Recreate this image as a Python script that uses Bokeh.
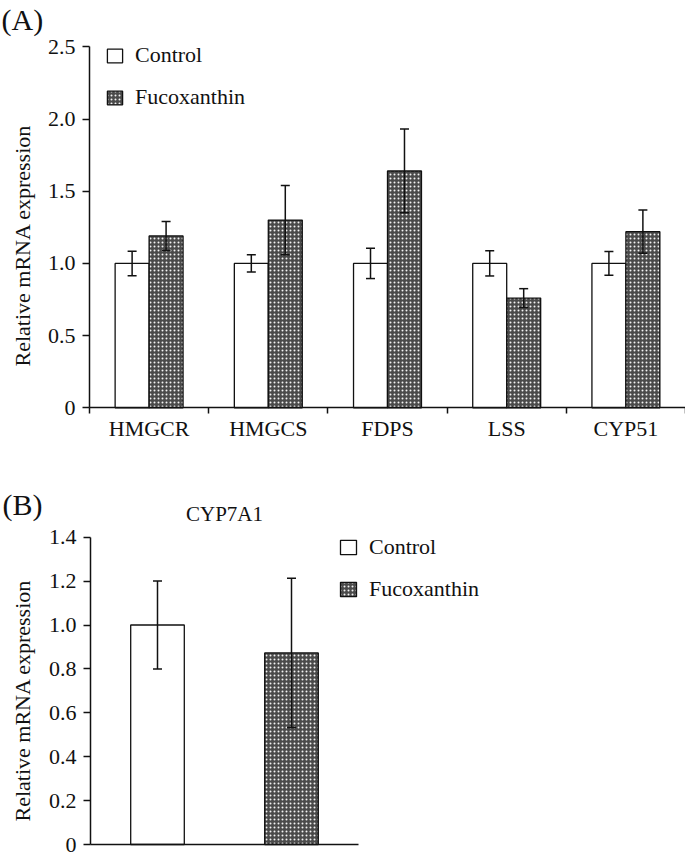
import numpy as np
from bokeh.plotting import figure
from bokeh.layouts import column
from bokeh.models import (Range1d, FixedTicker, Whisker, TeeHead, ColumnDataSource,
                          Legend, LegendItem, Label)
from bokeh.transform import dodge
from bokeh.embed import file_html
from bokeh.resources import INLINE

# ---------------- data ----------------
genes = ["HMGCR", "HMGCS", "FDPS", "LSS", "CYP51"]
control_a = [1.00, 1.00, 1.00, 1.00, 1.00]
control_a_err = [0.085, 0.060, 0.105, 0.087, 0.082]
fuco_a = [1.19, 1.30, 1.64, 0.76, 1.22]
fuco_a_err = [0.100, 0.240, 0.290, 0.065, 0.150]
y_ticks_a = [0, 0.5, 1.0, 1.5, 2.0, 2.5]
y_labels_a = ["0", "0.5", "1.0", "1.5", "2.0", "2.5"]

gene_b = "CYP7A1"
groups_b = ["Control", "Fucoxanthin"]
values_b = [1.00, 0.873]
errors_b = [0.20, 0.34]
y_ticks_b = [0, 0.2, 0.4, 0.6, 0.8, 1.0, 1.2, 1.4]
y_labels_b = ["0", "0.2", "0.4", "0.6", "0.8", "1.0", "1.2", "1.4"]

y_title = "Relative mRNA expression"

# ---------------- style ----------------
FONT = "Liberation Serif"
INK = "#111111"
FS = "22px"
CTRL_STYLE = dict(fill_color="white", line_color=INK, line_width=1.3)
FUCO_STYLE = dict(fill_color="#4a4a4a", line_color=INK, line_width=1.3,
                  hatch_pattern="dot", hatch_color="#f2f2f2", hatch_scale=4, hatch_weight=2.5)


def style_axes(p):
    for ax in p.axis:
        ax.axis_line_width = 1.5
        ax.axis_line_color = INK
        ax.major_tick_line_color = INK
        ax.major_tick_line_width = 1.5
        ax.minor_tick_line_color = INK
        ax.minor_tick_line_width = 1.5
        ax.major_label_text_font = FONT
        ax.major_label_text_font_size = FS
        ax.major_label_text_color = INK
    p.xgrid.visible = False
    p.ygrid.visible = False
    p.outline_line_color = None
    p.background_fill_color = "white"
    p.border_fill_color = "white"


def whisker(src, xfield, off, lo, hi):
    return Whisker(base=dodge(xfield, off), lower=lo, upper=hi, source=src, level="overlay",
                   line_color=INK, line_width=1.5,
                   upper_head=TeeHead(size=9, line_color=INK, line_width=1.5),
                   lower_head=TeeHead(size=9, line_color=INK, line_width=1.5))


def text_label(text, x, y, size, align="left", angle=0.0):
    return Label(x=x, y=y, x_units="screen", y_units="screen", text=text,
                 text_font=FONT, text_font_size=size, text_color=INK,
                 text_baseline="middle", text_align=align, angle=angle)


# ---------------- panel A ----------------
# layout (pixels inside figure A): data x=0 at 89px, one category = 119.2px,
# data y=0 at 407.3px from top, one unit = 144.4px
FIG_A_W, FIG_A_H = 685, 465
A_X0, A_CAT = 89, 119.2
A_Y0, A_UNIT = 407.3, 144.4

n = len(genes)
xa = [i + 0.5 for i in range(n)]
src_a = ColumnDataSource(dict(
    x=xa, ctrl=control_a, fuco=fuco_a,
    ctrl_lo=[v - e for v, e in zip(control_a, control_a_err)],
    ctrl_hi=[v + e for v, e in zip(control_a, control_a_err)],
    fuco_lo=[v - e for v, e in zip(fuco_a, fuco_a_err)],
    fuco_hi=[v + e for v, e in zip(fuco_a, fuco_a_err)],
))

pa = figure(width=FIG_A_W, height=FIG_A_H, output_backend="svg", toolbar_location=None,
            title=None, min_border=0,
            x_range=Range1d(-A_X0 / A_CAT, (FIG_A_W - A_X0) / A_CAT),
            y_range=Range1d(-(FIG_A_H - A_Y0) / A_UNIT, A_Y0 / A_UNIT))
W = 0.285
OFF = 0.1425
r_ctrl = pa.vbar(x=dodge("x", -OFF), top="ctrl", width=W, source=src_a, **CTRL_STYLE)
r_fuco = pa.vbar(x=dodge("x", OFF), top="fuco", width=W, source=src_a, **FUCO_STYLE)
pa.add_layout(whisker(src_a, "x", -OFF, "ctrl_lo", "ctrl_hi"))
pa.add_layout(whisker(src_a, "x", OFF, "fuco_lo", "fuco_hi"))

pa.xaxis.fixed_location = 0
pa.xaxis.bounds = (0, n)
pa.xaxis.ticker = FixedTicker(ticks=xa, minor_ticks=list(range(n + 1)))
pa.xaxis.major_label_overrides = {x: g for x, g in zip(xa, genes)}
pa.xaxis.major_tick_out = 0
pa.xaxis.major_tick_in = 0
pa.xaxis.minor_tick_out = 6
pa.xaxis.minor_tick_in = 0
pa.xaxis.major_label_standoff = 2

pa.yaxis.fixed_location = 0
pa.yaxis.bounds = (y_ticks_a[0], y_ticks_a[-1])
pa.yaxis.ticker = FixedTicker(ticks=y_ticks_a, minor_ticks=[])
pa.yaxis.major_label_overrides = {t: l for t, l in zip(y_ticks_a, y_labels_a)}
pa.yaxis.major_tick_out = 7
pa.yaxis.major_tick_in = 0
pa.yaxis.major_label_standoff = 7
style_axes(pa)

leg_a = Legend(items=[LegendItem(label=groups_b[0], renderers=[r_ctrl]),
                      LegendItem(label=groups_b[1], renderers=[r_fuco])],
               location=(105, 355), orientation="vertical",
               glyph_width=19, glyph_height=17, label_height=26, label_width=10, spacing=16,
               label_standoff=11, padding=0, margin=0,
               label_text_font=FONT, label_text_font_size=FS, label_text_color=INK,
               label_text_baseline="middle",
               border_line_color=None, background_fill_alpha=0)
pa.add_layout(leg_a)
pa.add_layout(text_label("(A)", 1, FIG_A_H - 19, "30px"))
pa.add_layout(text_label(y_title, 22, FIG_A_H - 245, FS, align="center", angle=np.pi / 2))

# ---------------- panel B ----------------
FIG_B_W, FIG_B_H = 685, 391
B_X0, B_CAT = 90, 134
B_Y0, B_TOP = 379, 71.7
B_UNIT = (B_Y0 - B_TOP) / y_ticks_b[-1]

xb = [i + 0.5 for i in range(len(groups_b))]
src_b_ctrl = ColumnDataSource(dict(x=xb[:1], v=values_b[:1],
                                   lo=[values_b[0] - errors_b[0]], hi=[values_b[0] + errors_b[0]]))
src_b_fuco = ColumnDataSource(dict(x=xb[1:], v=values_b[1:],
                                   lo=[values_b[1] - errors_b[1]], hi=[values_b[1] + errors_b[1]]))

pb = figure(width=FIG_B_W, height=FIG_B_H, output_backend="svg", toolbar_location=None,
            title=None, min_border=0,
            x_range=Range1d(-B_X0 / B_CAT, (FIG_B_W - B_X0) / B_CAT),
            y_range=Range1d(-(FIG_B_H - B_Y0) / B_UNIT, B_Y0 / B_UNIT))
WB = 0.40
rb_ctrl = pb.vbar(x="x", top="v", width=WB, source=src_b_ctrl, **CTRL_STYLE)
rb_fuco = pb.vbar(x="x", top="v", width=WB, source=src_b_fuco, **FUCO_STYLE)
pb.add_layout(whisker(src_b_ctrl, "x", 0, "lo", "hi"))
pb.add_layout(whisker(src_b_fuco, "x", 0, "lo", "hi"))

pb.xaxis.fixed_location = 0
pb.xaxis.bounds = (0, len(groups_b))
pb.xaxis.ticker = FixedTicker(ticks=[], minor_ticks=[])
pb.xaxis.major_tick_out = 0
pb.xaxis.major_tick_in = 0

pb.yaxis.fixed_location = 0
pb.yaxis.bounds = (y_ticks_b[0], y_ticks_b[-1])
pb.yaxis.ticker = FixedTicker(ticks=y_ticks_b, minor_ticks=[])
pb.yaxis.major_label_overrides = {t: l for t, l in zip(y_ticks_b, y_labels_b)}
pb.yaxis.major_tick_out = 7
pb.yaxis.major_tick_in = 0
pb.yaxis.major_label_standoff = 7
style_axes(pb)

leg_b = Legend(items=[LegendItem(label=groups_b[0], renderers=[rb_ctrl]),
                      LegendItem(label=groups_b[1], renderers=[rb_fuco])],
               location=(338, 254), orientation="vertical",
               glyph_width=20, glyph_height=18, label_height=26, label_width=10, spacing=16,
               label_standoff=11, padding=0, margin=0,
               label_text_font=FONT, label_text_font_size=FS, label_text_color=INK,
               label_text_baseline="middle",
               border_line_color=None, background_fill_alpha=0)
pb.add_layout(leg_b)
pb.add_layout(text_label(gene_b, 224, FIG_B_H - 48, "21px", align="center"))
pb.add_layout(text_label("(B)", 2, FIG_B_H - 39, "30px"))
pb.add_layout(text_label(y_title, 22, FIG_B_H - 235, FS, align="center", angle=np.pi / 2))

layout = column(pa, pb, spacing=0)
open("out.html", "w").write(file_html(layout, INLINE))
